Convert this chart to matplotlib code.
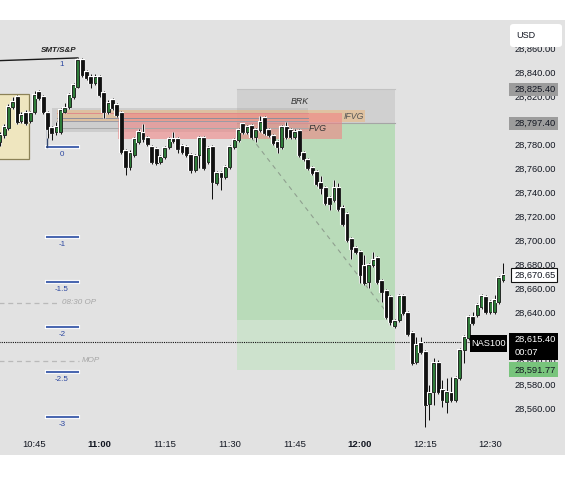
import matplotlib
matplotlib.use("Agg")
import matplotlib.pyplot as plt
import matplotlib.patheffects as pe
from matplotlib.patches import Rectangle, FancyBboxPatch

plt.rcParams['font.family'] = ['Liberation Sans', 'DejaVu Sans']

# 1-minute candles, x = minutes after 10:45
minutes = list(range(-8, 109))
opens = [28781.7, 28787.5, 28793.3, 28810.8, 28819.2, 28799.2, 28805.8, 28799.2,
         28806.7, 28823.3, 28819.2, 28805.8, 28793.3, 28790.0, 28790.0, 28806.7,
         28810.8, 28819.2, 28827.5, 28850.0, 28840.0, 28835.8, 28830.8, 28835.8,
         28822.5, 28806.7, 28816.7, 28812.5, 28805.8, 28774.2, 28760.8, 28770.8,
         28781.7, 28789.2, 28785.0, 28777.5, 28775.8, 28765.0, 28769.2, 28777.5,
         28784.2, 28784.2, 28778.3, 28777.5, 28770.8, 28758.3, 28770.8, 28785.0,
         28765.0, 28777.5, 28747.5, 28755.8, 28752.5, 28760.8, 28777.5, 28783.3,
         28796.7, 28790.0, 28795.0, 28785.8, 28791.7, 28801.7, 28791.7, 28786.7,
         28781.7, 28777.5, 28794.2, 28791.7, 28785.8, 28790.8, 28772.5, 28766.7,
         28760.0, 28756.7, 28747.5, 28743.3, 28735.0, 28733.3, 28743.3, 28726.7,
         28721.7, 28700.8, 28693.3, 28690.0, 28678.3, 28665.0, 28679.2, 28685.0,
         28665.8, 28657.5, 28652.5, 28628.3, 28633.3, 28653.3, 28639.2, 28622.5,
         28598.3, 28614.2, 28606.7, 28563.3, 28573.3, 28597.5, 28575.0, 28565.0,
         28572.5, 28566.7, 28585.0, 28608.3, 28618.3, 28635.8, 28637.5, 28644.2,
         28652.5, 28640.0, 28640.0, 28648.3, 28666.7]
highs = [28790.0, 28796.7, 28813.3, 28819.2, 28820.8, 28806.7, 28808.3, 28807.5,
         28824.2, 28825.0, 28820.8, 28807.5, 28795.0, 28798.3, 28810.0, 28814.2,
         28822.5, 28830.8, 28851.7, 28851.7, 28841.7, 28838.3, 28838.3, 28837.5,
         28824.2, 28816.7, 28818.3, 28814.2, 28807.5, 28775.8, 28775.0, 28785.8,
         28792.5, 28796.7, 28786.7, 28779.2, 28777.5, 28770.8, 28778.3, 28785.8,
         28790.0, 28785.8, 28780.0, 28779.2, 28772.5, 28771.7, 28786.7, 28786.7,
         28778.3, 28779.2, 28757.5, 28757.5, 28762.5, 28779.2, 28785.0, 28793.3,
         28797.5, 28795.8, 28796.7, 28793.3, 28803.3, 28803.3, 28793.3, 28788.3,
         28783.3, 28795.8, 28798.3, 28793.3, 28792.5, 28792.5, 28774.2, 28768.3,
         28761.7, 28758.3, 28753.3, 28745.0, 28736.7, 28750.0, 28747.5, 28729.2,
         28723.3, 28702.5, 28695.0, 28691.7, 28687.5, 28680.8, 28690.0, 28686.7,
         28667.5, 28659.2, 28654.2, 28634.2, 28655.0, 28655.0, 28640.8, 28624.2,
         28619.2, 28619.2, 28608.3, 28579.2, 28601.7, 28600.0, 28583.3, 28585.0,
         28585.8, 28586.7, 28610.0, 28620.8, 28637.5, 28640.0, 28647.5, 28655.0,
         28654.2, 28650.0, 28654.2, 28670.0, 28680.8]
lows = [28778.3, 28785.0, 28791.7, 28809.2, 28796.7, 28797.5, 28795.8, 28797.5,
        28805.0, 28816.7, 28805.0, 28785.0, 28783.3, 28787.5, 28788.3, 28805.8,
        28809.2, 28817.5, 28826.7, 28835.8, 28833.3, 28826.7, 28829.2, 28819.2,
        28801.7, 28805.0, 28808.3, 28802.5, 28771.7, 28754.2, 28758.3, 28769.2,
        28780.0, 28781.7, 28778.3, 28763.3, 28762.5, 28763.3, 28767.5, 28775.8,
        28780.8, 28772.5, 28771.7, 28769.2, 28755.8, 28756.7, 28760.0, 28758.3,
        28763.3, 28734.2, 28745.8, 28741.7, 28750.8, 28759.2, 28775.8, 28781.7,
        28788.3, 28788.3, 28784.2, 28781.7, 28790.0, 28787.5, 28785.8, 28779.2,
        28772.5, 28775.8, 28784.2, 28784.2, 28784.2, 28769.2, 28765.8, 28758.3,
        28754.2, 28745.0, 28738.3, 28729.2, 28725.0, 28731.7, 28724.2, 28711.7,
        28698.3, 28684.2, 28688.3, 28664.2, 28662.5, 28660.0, 28677.5, 28663.3,
        28648.3, 28634.2, 28629.2, 28626.7, 28631.7, 28637.5, 28620.0, 28595.8,
        28596.7, 28605.0, 28544.2, 28550.0, 28562.5, 28571.7, 28560.8, 28555.8,
        28565.0, 28565.0, 28583.3, 28597.5, 28616.7, 28629.2, 28635.8, 28642.5,
        28638.3, 28638.3, 28638.3, 28646.7, 28665.0]
closes = [28787.5, 28794.2, 28810.8, 28815.0, 28798.3, 28804.2, 28797.5, 28805.8,
          28820.8, 28818.3, 28806.7, 28792.5, 28789.2, 28794.2, 28808.3, 28810.0,
          28820.8, 28829.2, 28850.0, 28837.5, 28835.0, 28830.8, 28835.8, 28820.8,
          28806.7, 28814.2, 28810.0, 28804.2, 28773.3, 28760.8, 28772.5, 28784.2,
          28790.0, 28784.2, 28780.0, 28765.0, 28764.2, 28769.2, 28776.7, 28784.2,
          28782.5, 28775.8, 28773.3, 28770.8, 28758.3, 28770.0, 28785.0, 28760.0,
          28776.7, 28748.3, 28755.8, 28752.5, 28760.8, 28777.5, 28783.3, 28791.7,
          28790.0, 28794.2, 28785.8, 28791.7, 28798.3, 28789.2, 28787.5, 28780.8,
          28777.5, 28794.2, 28785.8, 28785.8, 28790.0, 28770.8, 28767.5, 28760.0,
          28755.8, 28746.7, 28743.3, 28730.8, 28730.0, 28743.3, 28725.8, 28713.3,
          28700.0, 28692.5, 28690.0, 28670.8, 28664.2, 28679.2, 28683.3, 28665.0,
          28656.7, 28635.8, 28631.7, 28632.5, 28653.3, 28639.2, 28621.7, 28597.5,
          28612.5, 28606.7, 28562.5, 28572.5, 28597.5, 28573.3, 28566.7, 28573.3,
          28566.7, 28585.0, 28608.3, 28619.2, 28635.8, 28630.8, 28645.8, 28653.3,
          28640.0, 28648.3, 28650.0, 28668.3, 28670.65]

time_ticks = [0, 15, 30, 45, 60, 75, 90, 105]
time_labels = ['10:45', '11:00', '11:15', '11:30', '11:45', '12:00', '12:15', '12:30']
price_ticks = list(range(28560, 28861, 20))

fib_names = ['1', '0', '-1', '-1.5', '-2', '-2.5', '-3']
fib_prices = [28852.5, 28777.5, 28702.5, 28665.0, 28627.5, 28590.0, 28552.5]

brk_price = 28825.40
entry_price = 28797.40
target_price = 28591.77
reached_price = 28633.3
last_price = 28670.65
nas_price = 28615.40
op_price = 28647.5
mop_price = 28599.2

GREY = '#e2e2e2'
UP = '#2f7d3a'

fig = plt.figure(figsize=(5.7, 5.0), dpi=100)
fig.patches.append(Rectangle((0, 45 / 500), 565 / 570, 435 / 500,
                             transform=fig.transFigure, facecolor=GREY,
                             edgecolor='none', zorder=-1))
ax = fig.add_axes([0, 68 / 500, 505 / 570, 412 / 500])
ax.set_facecolor(GREY)
for s in ax.spines.values():
    s.set_visible(False)
ax.set_xlim(-7.95, 108.4)
ax.set_ylim(28540, 28883.3)


def box(x0, x1, y0, y1, **kw):
    ax.add_patch(Rectangle((x0, y0), x1 - x0, y1 - y0, **kw))


# zones
box(-10, -1.27, 28767.5, 28821.7, facecolor='#efe6bf', edgecolor='#8c8257', lw=0.9, zorder=1)
box(46.7, 83.1, entry_price, brk_price, facecolor='#d0d0d0', edgecolor='none', zorder=1)
box(46.7, 83.1, reached_price, entry_price, facecolor='#b9dbb9', edgecolor='none', zorder=1)
box(46.7, 83.1, target_price, reached_price, facecolor='#cde2cd', edgecolor='none', zorder=1)
ax.plot([46.7, 83.1], [brk_price, brk_price], color='#c2c2c2', lw=0.8, zorder=1.1)
ax.plot([46.7, 83.1], [entry_price, entry_price], color='#a5a5a5', lw=0.8, zorder=1.1)
box(4.0, 63.0, 28790.0, 28810.0, facecolor='#a8a8a8', alpha=0.35, edgecolor='none', zorder=1.2)
box(5.2, 76.1, 28798.3, 28808.3, facecolor='#eeb574', alpha=0.5, edgecolor='none', zorder=1.3)
box(19.2, 70.9, 28784.2, 28805.8, facecolor='#f08585', alpha=0.6, edgecolor='none', zorder=1.4)
for p, c in [(28805.8, '#e08b8b'), (28801.7, '#8e8e9c'), (28799.2, '#9a9aa6'), (28793.3, '#a8a8a8')]:
    ax.plot([5.2, 63.0], [p, p], color=c, lw=0.7, zorder=1.5)

ax.text(61.2, 28815, 'BRK', style='italic', fontsize=6.3, color='#333333', ha='center', va='center', zorder=4)
ax.text(73.6, 28803.3, 'IFVG', style='italic', fontsize=6.3, color='#555555', ha='center', va='center', zorder=4)
ax.text(65.3, 28793.3, 'FVG', style='italic', fontsize=6.3, color='#333333', ha='center', va='center', zorder=4)

# trade path
ax.plot([47.35, 81.45], [entry_price, 28638.3], color='#8f9f8f', lw=0.8,
        linestyle=(0, (4, 4)), zorder=2)

# SMT line and fib levels
ax.plot([-10, 10.0], [28849.2, 28851.7], color='#1a1a1a', lw=1.0, zorder=2.5)
ax.text(5.6, 28857.5, 'SMT/S&P', style='italic', weight='bold', fontsize=5.8,
        color='#222222', ha='center', va='center', zorder=4)
stroke = [pe.withStroke(linewidth=3, foreground='white')]
for name, p in zip(fib_names, fib_prices):
    if name != '1':
        ax.plot([2.9, 10.0], [p, p], color='#4b68b0', lw=1.5, zorder=2.4, path_effects=stroke)
    ax.text(6.3, p - 6.5, name, fontsize=5.8, color='#2a46a0', ha='center', va='center', zorder=4)
ax.plot([2.9, 2.9], [fib_prices[1], 28793.0], color='#33466e', lw=1.0, zorder=2.4)

# session opens
ax.plot([-10, 5.6], [op_price, op_price], color='#b9b9b9', lw=0.9, linestyle=(0, (4, 3)), zorder=2)
ax.text(6.3, op_price, '08:30 OP', style='italic', fontsize=5.8, color='#a6a6a6', va='center', zorder=4)
ax.plot([-10, 10.3], [mop_price, mop_price], color='#b9b9b9', lw=0.9, linestyle=(0, (4, 3)), zorder=2)
ax.text(10.9, mop_price, 'MOP', style='italic', fontsize=5.8, color='#a6a6a6', va='center', zorder=4)
ax.plot([-10, 110], [nas_price, nas_price], color='#111111', lw=0.8, linestyle=(0, (1, 1)), zorder=2)

# candles
bottoms = [min(o, c) for o, c in zip(opens, closes)]
heights = [max(abs(c - o), 0.8) for o, c in zip(opens, closes)]
colors = [UP if c >= o else '#111111' for o, c in zip(opens, closes)]
ax.vlines(minutes, lows, highs, color='#111111', lw=0.9, zorder=3,
          path_effects=[pe.withStroke(linewidth=2.2, foreground='white')])
bars = ax.bar(minutes, heights, bottom=bottoms, width=0.68, color=colors,
              edgecolor='#111111', linewidth=0.6, zorder=3.1)
for b in bars:
    b.set_path_effects([pe.withStroke(linewidth=1.5, foreground='white')])

# axes
ax.set_xticks(time_ticks)
ax.set_xticklabels(time_labels)
for lbl in ax.get_xticklabels():
    if lbl.get_text() in ('11:00', '12:00'):
        lbl.set_fontweight('bold')
ax.tick_params(axis='x', length=0, pad=5.5, labelsize=6.8, colors='#131722')
ax.yaxis.tick_right()
ax.set_yticks(price_ticks)
ax.set_yticklabels([f"{v:,.2f}" for v in price_ticks])
ax.tick_params(axis='y', length=0, pad=7, labelsize=6.7, colors='#131722')

ytr = ax.get_yaxis_transform()


def tag(lo, hi, fc, ec='none', x0=1.008, w=0.097):
    ax.add_patch(Rectangle((x0, lo), w, hi - lo, transform=ytr, facecolor=fc,
                           edgecolor=ec, lw=0.8, clip_on=False, zorder=6))


def tag_text(p, s, color='#131722', x=1.0198, **kw):
    ax.text(x, p, s, transform=ytr, fontsize=6.7, color=color, va='center',
            ha='left', clip_on=False, zorder=7, **kw)


tag(brk_price - 5.4, brk_price + 5.4, '#9c9c9c')
tag_text(brk_price, f"{brk_price:,.2f}")
tag(entry_price - 5.4, entry_price + 5.4, '#9c9c9c')
tag_text(entry_price, f"{entry_price:,.2f}")
tag(last_price - 5.8, last_price + 5.8, 'white', ec='#111111', x0=1.012, w=0.09)
tag_text(last_price, f"{last_price:,.2f}")
tag(28600.0, 28622.5, 'black')
tag_text(28617.5, f"{nas_price:,.2f}", color='white')
tag_text(28606.3, '00:07', color='white')
tag(target_price - 6.2, target_price + 6.2, '#78c47c')
tag_text(target_price, f"{target_price:,.2f}")
tag(28606.7, 28620.8, 'black', x0=470 / 505, w=37 / 505)
ax.text(488.5 / 505, 28613.7, 'NAS100', transform=ytr, fontsize=6.7, color='white',
        ha='center', va='center', clip_on=False, zorder=7)

fig.patches.append(FancyBboxPatch((510 / 570, 1 - 47 / 500), 52 / 570, 23 / 500,
                                  boxstyle='round,pad=0,rounding_size=0.006',
                                  transform=fig.transFigure, facecolor='white',
                                  edgecolor='none', zorder=5))
fig.text(516 / 570, 1 - 35 / 500, 'USD', fontsize=6.5, color='#131722', va='center', zorder=6)

fig.savefig('out.png', dpi=100, facecolor='white')
